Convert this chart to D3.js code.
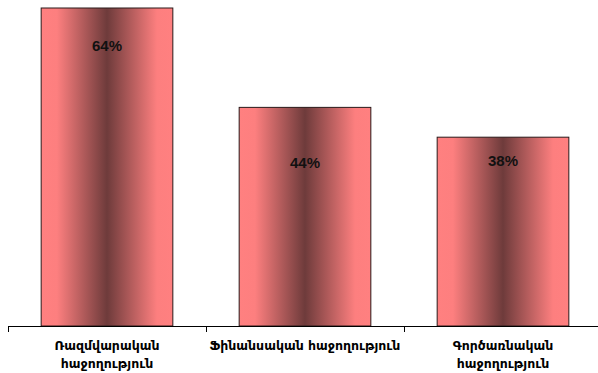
<!DOCTYPE html>
<html><head><meta charset="utf-8">
<script src="https://cdn.jsdelivr.net/npm/d3@7"></script>
<style>body{margin:0;background:#fff}svg{display:block}</style>
</head><body>
<svg id="c" width="598" height="373"></svg>
<script>
const categories = [["Ռազմվարական","հաջողություն"],["Ֆինանսական հաջողություն"],["Գործառնական","հաջողություն"]];
const values = [64, 44, 38];
const valueLabels = ["64%","44%","38%"];
const labelDrop = [38, 56, 24];

const svg = d3.select("#c");
const x = d3.scaleBand().domain(d3.range(values.length)).range([8, 602]).paddingInner(0.335).paddingOuter(0.1675);
const y = d3.scaleLinear().domain([0, 64]).range([326, 8]);

const defs = svg.append("defs");
const g = defs.append("linearGradient").attr("id","grad").attr("x1","0").attr("x2","1").attr("y1","0").attr("y2","0");
[[0,"#ff8080"],[0.12,"#fd7f7f"],[0.5,"#6e3b3b"],[0.88,"#fd7f7f"],[1,"#ff8080"]].forEach(([o,c])=>g.append("stop").attr("offset",o).attr("stop-color",c));

svg.selectAll("rect.bar").data(values).join("rect").attr("class","bar")
  .attr("x",(d,i)=>x(i)).attr("width",x.bandwidth())
  .attr("y",d=>y(d)).attr("height",d=>y(0)-y(d))
  .attr("fill","url(#grad)").attr("stroke","#2a1a1a").attr("stroke-width",1);

svg.selectAll("text.val").data(values).join("text").attr("class","val")
  .attr("x",(d,i)=>x(i)+x.bandwidth()/2).attr("y",(d,i)=>y(d)+labelDrop[i]+5)
  .attr("text-anchor","middle").attr("font-family","Liberation Sans, Arial, sans-serif")
  .attr("font-weight","bold").attr("font-size",15).attr("fill","#111")
  .text((d,i)=>valueLabels[i]);

// axis
const step = x.step();
svg.append("line").attr("x1",8).attr("x2",598).attr("y1",326.5).attr("y2",326.5).attr("stroke","#000");
d3.range(values.length+1).forEach(i=>{
  const tx = Math.round(8 + i*step)+0.5;
  svg.append("line").attr("x1",tx).attr("x2",tx).attr("y1",326).attr("y2",332).attr("stroke","#000");
});

categories.forEach((lines,i)=>{
  const t = svg.append("text").attr("text-anchor","middle")
    .attr("font-family","DejaVu Sans, sans-serif").attr("font-weight","bold").attr("font-size",12.5).attr("fill","#000");
  lines.forEach((ln,j)=>t.append("tspan").attr("x",x(i)+x.bandwidth()/2).attr("y",350+j*18).text(ln));
});
</script>
</body></html>
